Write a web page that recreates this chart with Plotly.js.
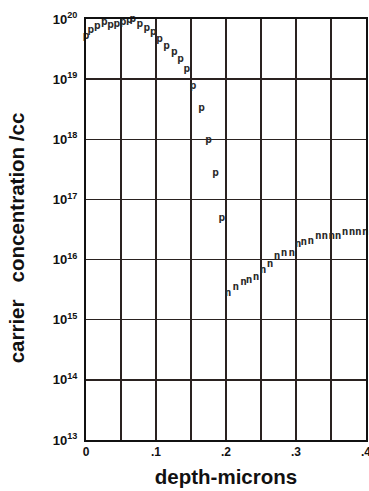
<!DOCTYPE html>
<html><head><meta charset="utf-8">
<script src="https://cdn.plot.ly/plotly-3.0.1.min.js"></script>
<style>html,body{margin:0;padding:0;background:#fff}#c{width:369px;height:491px}</style>
</head><body><div id="c"></div>
<script>
const pDepth = [0.0, 0.007, 0.016, 0.026, 0.035, 0.044, 0.053, 0.062, 0.067, 0.077, 0.087, 0.096, 0.105, 0.115, 0.126, 0.135, 0.144, 0.153, 0.165, 0.175, 0.185, 0.194];
const pLogConc = [19.71, 19.81, 19.88, 19.94, 19.90, 19.92, 19.95, 19.98, 20.0, 19.91, 19.85, 19.78, 19.66, 19.54, 19.45, 19.33, 19.17, 18.88, 18.52, 17.99, 17.43, 16.69];
const nDepth = [0.203, 0.214, 0.225, 0.233, 0.243, 0.253, 0.263, 0.273, 0.283, 0.294, 0.303, 0.311, 0.321, 0.332, 0.341, 0.351, 0.360, 0.370, 0.380, 0.389, 0.399];
const nLogConc = [15.44, 15.54, 15.63, 15.66, 15.70, 15.83, 15.93, 16.06, 16.10, 16.10, 16.26, 16.28, 16.30, 16.38, 16.38, 16.39, 16.39, 16.46, 16.46, 16.46, 16.46];
const xTickVals = [0, 0.05, 0.1, 0.15, 0.2, 0.25, 0.3, 0.35, 0.4];
const xTickText = ['0', '', '.1', '', '.2', '', '.3', '', '.4'];
const yExponents = [13, 14, 15, 16, 17, 18, 19, 20];

const toConc = a => a.map(v => Math.pow(10, v));
const markerFont = {family: 'DejaVu Sans Mono, monospace', size: 11, color: '#2a2a2a', weight: 'bold'};
const traces = [
  {x: pDepth, y: toConc(pLogConc), mode: 'text', text: pDepth.map(() => 'p'), textfont: markerFont, textposition: 'middle center', hoverinfo: 'skip', cliponaxis: false},
  {x: nDepth, y: toConc(nLogConc), mode: 'text', text: nDepth.map(() => 'n'), textfont: markerFont, textposition: 'middle center', hoverinfo: 'skip', cliponaxis: false}
];
const tickFont = {family: 'Liberation Sans, Arial, sans-serif', size: 13, color: '#111', weight: 'bold'};
const titleFont = {family: 'Liberation Sans, Arial, sans-serif', size: 20.5, color: '#111', weight: 'bold'};
const layout = {
  width: 369, height: 491,
  margin: {l: 86, r: 3, t: 19, b: 51},
  paper_bgcolor: '#fff', plot_bgcolor: '#fff',
  showlegend: false,
  xaxis: {
    range: [0, 0.4], tickvals: xTickVals, ticktext: xTickText,
    showgrid: true, gridcolor: '#2a2220', gridwidth: 1.5,
    showline: true, linecolor: '#111', linewidth: 2, mirror: true,
    ticks: '', zeroline: false, tickfont: Object.assign({}, tickFont, {size: 12}),
    ticklabeloverflow: 'allow', automargin: false,
    title: {text: 'depth-microns', font: titleFont, standoff: 11}
  },
  yaxis: {
    type: 'log', range: [13, 20],
    tickvals: yExponents.map(e => Math.pow(10, e)),
    ticktext: yExponents.map(e => '10<sup>' + e + '</sup>'),
    showgrid: true, gridcolor: '#2a2220', gridwidth: 1.5,
    showline: true, linecolor: '#111', linewidth: 2, mirror: true,
    ticks: '', zeroline: false, tickfont: tickFont, ticklabelstandoff: 4,
    automargin: false
  },
  annotations: [{
    text: 'carrier\u00a0\u00a0 concentration /cc', font: titleFont, textangle: -90,
    xref: 'paper', yref: 'paper', x: -0.25, y: 0.479, xanchor: 'center', yanchor: 'middle',
    showarrow: false
  }]
};
Plotly.newPlot('c', traces, layout, {staticPlot: true, displayModeBar: false});
</script></body></html>
